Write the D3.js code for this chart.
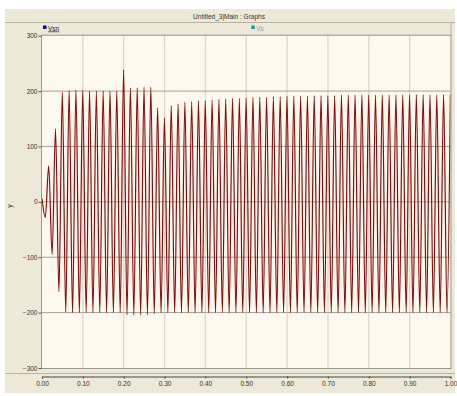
<!DOCTYPE html>
<html>
<head>
<meta charset="utf-8">
<script src="https://cdn.jsdelivr.net/npm/d3@7"></script>
<style>
  body { margin: 0; background: #fff; }
  text { font-family: "Liberation Sans Narrow", "Liberation Sans", sans-serif; }
</style>
</head>
<body>
<script>
// time base of the trace (60 Hz), first trough and first peak
const freq = 60;
const firstTrough = 0.0081;
const firstPeak = 0.0164;
const startValue = 6;

// positive peak of each cycle
const peakValues = [
  65, 132, 198, 201, 202, 202, 200, 200, 200, 200,
  200, 239, 206, 206, 207, 207, 170, 152, 174, 177,
  180, 181, 183, 183, 184, 185, 186, 187, 187, 188,
  189, 189, 189, 190, 190, 191, 191, 191, 191, 192,
  192, 192, 192, 193, 193, 193, 193, 193, 193, 193,
  193, 193, 193, 193, 194, 194, 193, 193, 194, 194
];

// negative trough of each cycle
const troughValues = [
  -28, -95, -162, -199, -200, -200, -200, -200, -200, -200,
  -200, -200, -204, -204, -204, -204, -202, -200, -200, -200,
  -200, -200, -200, -200, -200, -200, -200, -200, -200, -200,
  -200, -200, -200, -200, -200, -200, -200, -200, -200, -200,
  -200, -200, -200, -200, -200, -200, -200, -200, -200, -200,
  -200, -200, -200, -200, -200, -200, -200, -200, -200, -200
];

const yTicks = [300, 200, 100, 0, -100, -200, -300];
const xTicks = [0, 0.1, 0.2, 0.3, 0.4, 0.5, 0.6, 0.7, 0.8, 0.9, 1.0];
const title = "Untitled_3|Main : Graphs";
const legendItems = [
  { name: "Vsn", color: "#0a0a8c", textColor: "#222", at: 0 },
  { name: "Vs", color: "#1a9a9a", textColor: "#999", at: 0.5 }
];

const W = 457, H = 396;
const plot = { left: 42, right: 450.5, top: 35.7, bottom: 368 };

const svg = d3.select("body").append("svg")
  .attr("width", W).attr("height", H);

// window frame
svg.append("rect").attr("x", 5).attr("y", 9).attr("width", W - 7).attr("height", H - 12)
  .attr("fill", "#ece9d8");

// title bar
svg.append("text")
  .attr("x", 229).attr("y", 18.5)
  .attr("text-anchor", "middle")
  .attr("font-size", 6.5).attr("fill", "#333")
  .text(title);
svg.append("line")
  .attr("x1", 5).attr("x2", W - 2).attr("y1", 22.5).attr("y2", 22.5)
  .attr("stroke", "#b8b5a8");

// legend strip
const legend = svg.append("g");
legend.append("line")
  .attr("x1", plot.right + 0.5).attr("x2", plot.right + 0.5)
  .attr("y1", 22.5).attr("y2", plot.top)
  .attr("stroke", "#b8b5a8");
legendItems.forEach((d) => {
  const lx = plot.left + 1 + d.at * (plot.right - plot.left) + (d.at ? 4 : 0);
  legend.append("rect")
    .attr("x", lx).attr("y", 25.5).attr("width", 3.5).attr("height", 3.5)
    .attr("fill", d.color);
  const t = legend.append("text")
    .attr("x", lx + 5).attr("y", 30.5)
    .attr("font-size", 6.5).attr("fill", d.textColor)
    .text(d.name);
  if (d.at === 0) t.attr("text-decoration", "underline");
});

const x = d3.scaleLinear().domain([0, 1]).range([plot.left, plot.right]);
const y = d3.scaleLinear().domain([-300, 300]).range([plot.bottom, plot.top]);

// plot background
svg.append("rect")
  .attr("x", plot.left).attr("y", plot.top)
  .attr("width", plot.right - plot.left).attr("height", plot.bottom - plot.top)
  .attr("fill", "#fdf9ee");

// vertical grid
svg.append("g").selectAll("line")
  .data(xTicks.slice(1, -1))
  .enter().append("line")
  .attr("x1", (d) => x(d)).attr("x2", (d) => x(d))
  .attr("y1", plot.top).attr("y2", plot.bottom)
  .attr("stroke", "#dcd8cc").attr("stroke-width", 1.3);

// horizontal grid
svg.append("g").selectAll("line")
  .data(yTicks.slice(1, -1))
  .enter().append("line")
  .attr("x1", plot.left).attr("x2", plot.right)
  .attr("y1", (d) => y(d)).attr("y2", (d) => y(d))
  .attr("stroke", "#a4a29a").attr("stroke-width", 1);

// build the trace from the read peaks and troughs
const trace = [{ t: 0, v: startValue }];
troughValues.forEach((v, k) => {
  trace.push({ t: firstTrough + k / freq, v: v });
  trace.push({ t: firstPeak + k / freq, v: peakValues[k] });
});

svg.append("clipPath").attr("id", "clip")
  .append("rect")
  .attr("x", plot.left).attr("y", plot.top)
  .attr("width", plot.right - plot.left).attr("height", plot.bottom - plot.top);

const line = d3.line()
  .x((d) => x(d.t))
  .y((d) => y(d.v))
  .curve(d3.curveMonotoneX);

svg.append("path")
  .datum(trace)
  .attr("clip-path", "url(#clip)")
  .attr("fill", "none")
  .attr("stroke", "#8b0a0a")
  .attr("stroke-width", 1.2)
  .attr("d", line);

// plot border
svg.append("rect")
  .attr("x", plot.left - 0.5).attr("y", plot.top - 0.5)
  .attr("width", plot.right - plot.left + 1).attr("height", plot.bottom - plot.top + 1)
  .attr("fill", "none").attr("stroke", "#9a988f");

// y axis
const yAxis = svg.append("g")
  .attr("transform", `translate(${plot.left - 0.5},0)`)
  .call(d3.axisLeft(y).tickValues(yTicks).tickSize(3).tickPadding(1).tickFormat(d3.format("d")));
yAxis.select(".domain").remove();
yAxis.selectAll("line").attr("stroke", "#555");
yAxis.selectAll("text").attr("font-size", 6.5).attr("fill", "#333")
  .attr("font-family", "'Liberation Sans Narrow', 'Liberation Sans', sans-serif");

svg.append("text")
  .attr("transform", "translate(12,206) rotate(-90)")
  .attr("text-anchor", "middle")
  .attr("font-size", 7).attr("fill", "#333")
  .text("y");

// x axis strip
svg.append("line")
  .attr("x1", 5).attr("x2", W - 2).attr("y1", 373.5).attr("y2", 373.5)
  .attr("stroke", "#b8b5a8");
const xAxis = svg.append("g")
  .attr("transform", "translate(0,376.5)")
  .call(d3.axisBottom(x).tickValues(xTicks).tickSize(2).tickPadding(3).tickFormat(d3.format(".2f")));
xAxis.select(".domain").attr("stroke", "#444");
xAxis.selectAll("line").attr("stroke", "#444");
xAxis.selectAll("text").attr("font-size", 6.5).attr("fill", "#333")
  .attr("font-family", "'Liberation Sans Narrow', 'Liberation Sans', sans-serif");
</script>
</body>
</html>
